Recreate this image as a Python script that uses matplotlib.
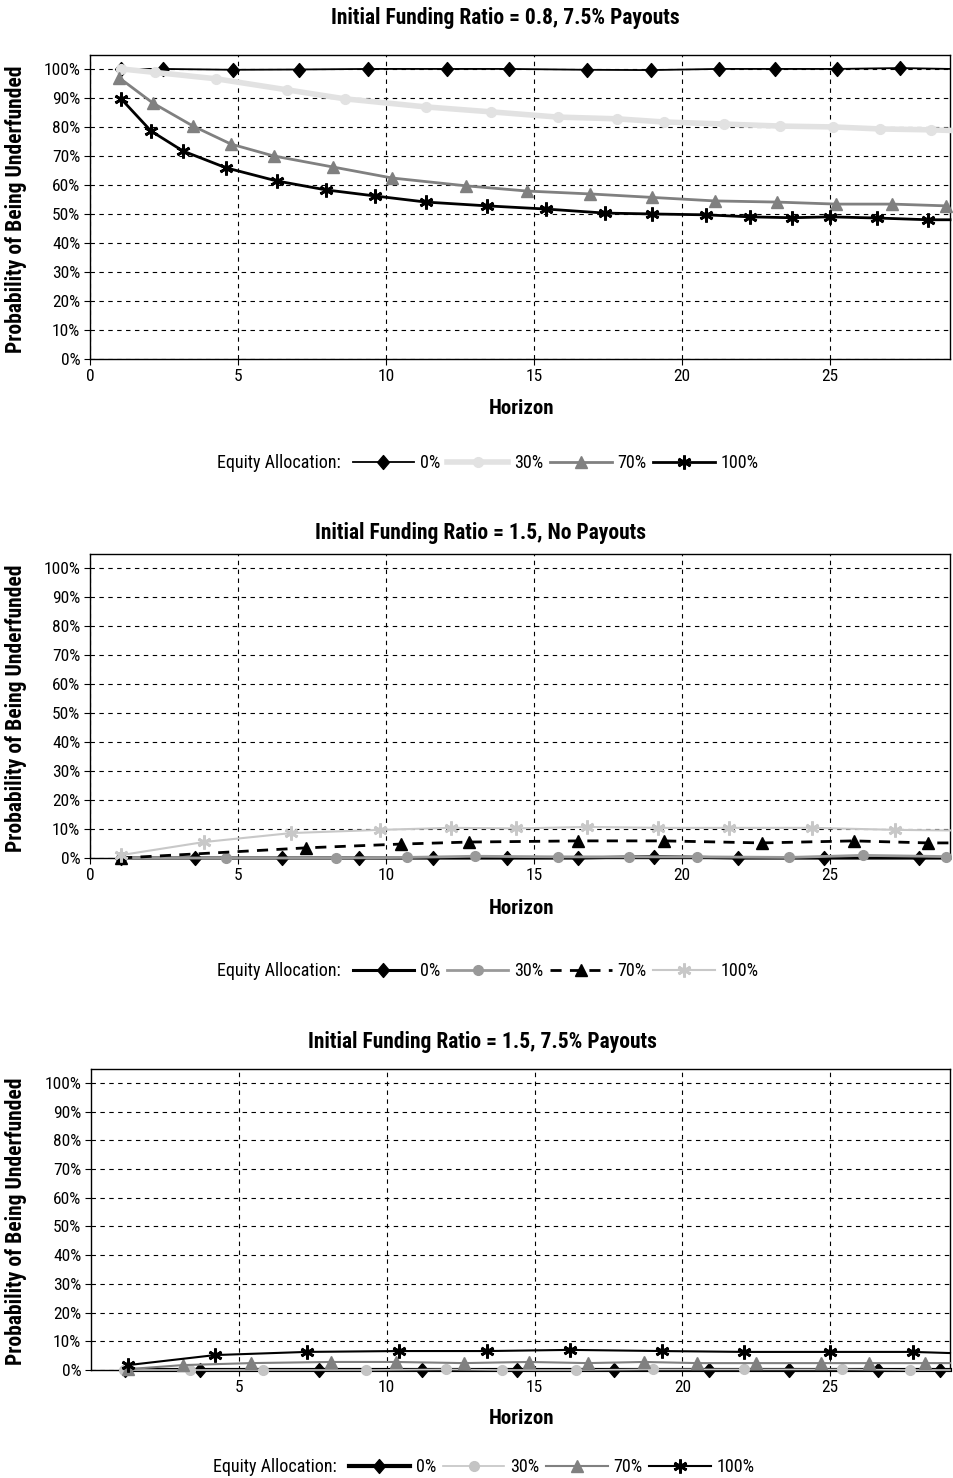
import matplotlib
matplotlib.use("Agg")
import matplotlib.pyplot as plt
from matplotlib import font_manager
from matplotlib.lines import Line2D
from matplotlib.path import Path

# pick a narrow sans if there is one
fonts = font_manager.fontManager.ttflist
names = set(f.name for f in fonts)
family = 'Liberation Sans'
stretch = 'normal'
for cand in ['Liberation Sans Narrow', 'Roboto Condensed', 'Open Sans Condensed']:
    if cand in names:
        family = cand
        break
else:
    if any(f.name == 'DejaVu Sans' and f.stretch == 'condensed' for f in fonts):
        family = 'DejaVu Sans'
        stretch = 'condensed'
plt.rcParams['font.family'] = [family, 'DejaVu Sans']
plt.rcParams['font.stretch'] = stretch

titles = ["Initial Funding Ratio = 0.8, 7.5% Payouts",
          "Initial Funding Ratio = 1.5, No Payouts",
          "Initial Funding Ratio = 1.5, 7.5% Payouts"]
labels = ["0%", "30%", "70%", "100%"]
yticks = list(range(0, 101, 10))

# panel 1: funding ratio 0.8, 7.5% payouts
p1_x0 = [1.05, 2.47, 4.83, 7.06, 9.4, 12.06, 14.16, 16.79, 18.95, 21.25, 23.14, 25.24, 27.36, 29.05]
p1_y0 = [100, 100, 99.7, 99.8, 100, 100, 100, 99.7, 99.6, 100, 100, 100, 100.3, 100]
p1_x30 = [1.05, 2.2, 4.26, 6.65, 8.6, 11.35, 13.55, 15.8, 17.8, 19.4, 21.4, 23.3, 25.1, 26.7, 28.4, 29.05]
p1_y30 = [100, 98.8, 96.6, 92.8, 89.7, 86.9, 85.2, 83.4, 82.8, 81.7, 81.0, 80.3, 80.0, 79.3, 79.0, 78.8]
p1_x70 = [0.99, 2.13, 3.48, 4.76, 6.2, 8.2, 10.2, 12.7, 14.76, 16.9, 19.0, 21.1, 23.2, 25.2, 27.1, 28.9]
p1_y70 = [96.9, 88.2, 80.3, 74.1, 70.0, 66.2, 62.4, 59.7, 57.9, 56.9, 55.7, 54.5, 54.1, 53.4, 53.4, 52.8]
p1_x100 = [1.05, 2.06, 3.14, 4.6, 6.3, 7.97, 9.63, 11.35, 13.4, 15.4, 17.4, 19.0, 20.8, 22.3, 23.7, 25.0, 26.6, 28.3, 29.05]
p1_y100 = [89.7, 78.6, 71.7, 65.9, 61.4, 58.3, 56.2, 54.1, 52.8, 51.7, 50.3, 50.0, 49.7, 49.0, 48.7, 49.0, 48.6, 48.0, 48.0]

# panel 2: funding ratio 1.5, no payouts
p2_x0 = [1.05, 3.55, 6.5, 9.1, 11.6, 14.1, 16.5, 19.05, 21.9, 24.8, 28.0, 29.05]
p2_y0 = [0, 0, 0, 0, 0, 0, 0, 0.5, 0, 0, 0, 0]
p2_x30 = [1.05, 4.6, 8.3, 10.7, 13.0, 15.8, 18.2, 20.5, 23.6, 26.1, 28.9]
p2_y30 = [0, 0, 0, 0.2, 0.6, 0.4, 0.4, 0.4, 0.2, 0.9, 0.5]
p2_x70 = [1.05, 7.3, 10.5, 12.8, 16.5, 19.4, 22.7, 25.8, 28.3, 29.05]
p2_y70 = [0, 3.5, 4.8, 5.5, 5.9, 5.9, 5.2, 5.9, 5.2, 5.2]
p2_x100 = [1.05, 3.85, 6.8, 9.8, 12.2, 14.4, 16.8, 19.2, 21.6, 24.4, 27.2, 29.05]
p2_y100 = [1.0, 5.5, 8.6, 9.7, 10.4, 10.2, 10.7, 10.4, 10.4, 10.4, 9.7, 9.5]

# panel 3: funding ratio 1.5, 7.5% payouts
p3_x0 = [1.15, 3.7, 7.7, 11.2, 14.4, 17.7, 20.9, 23.6, 26.6, 28.7, 29.05]
p3_y0 = [0, 0, 0, 0, 0, 0, 0, 0, 0, 0, 0]
p3_x30 = [1.1, 3.35, 5.8, 9.3, 12.0, 13.9, 16.4, 19.0, 22.1, 25.4, 27.7, 29.05]
p3_y30 = [0, 0, 0, 0, 0.2, 0, 0, 0.2, 0.2, 0.2, 0, 0]
p3_x70 = [1.25, 3.1, 5.4, 8.1, 10.3, 12.6, 14.8, 16.8, 18.7, 20.5, 22.5, 24.7, 26.3, 28.2, 29.05]
p3_y70 = [0.3, 1.7, 2.4, 2.8, 2.8, 2.4, 2.8, 2.4, 2.8, 2.4, 2.4, 2.4, 2.4, 2.4, 2.4]
p3_x100 = [1.25, 4.2, 7.3, 10.4, 13.4, 16.2, 19.3, 22.1, 25.0, 27.8, 29.05]
p3_y100 = [1.7, 5.2, 6.3, 6.6, 6.6, 7.0, 6.6, 6.3, 6.3, 6.3, 5.9]

star = (6, 2, 0)
diamond = Path([(0, 1), (0.85, 0), (0, -1), (-0.85, 0), (0, 1)],
               [Path.MOVETO, Path.LINETO, Path.LINETO, Path.LINETO, Path.CLOSEPOLY])

# style per panel: (color, lw, linestyle, marker, ms, marker color)
styles = [
    [('black', 1.3, '-', diamond, 10, 'black'),
     ('#e2e2e2', 4.0, '-', 'o', 7, '#e2e2e2'),
     ('#808080', 2.0, '-', '^', 9, '#808080'),
     ('black', 2.0, '-', star, 10, 'black')],
    [('black', 2.2, '-', diamond, 10, 'black'),
     ('#999999', 2.0, '-', 'o', 7, '#999999'),
     ('black', 2.0, (0, (4, 3)), '^', 9, 'black'),
     ('#c8c8c8', 1.5, '-', star, 10, '#c8c8c8')],
    [('black', 3.0, '-', diamond, 10, 'black'),
     ('#c4c4c4', 1.2, '-', 'o', 7, '#c4c4c4'),
     ('#808080', 1.5, '-', '^', 9, '#808080'),
     ('black', 1.5, '-', star, 10, 'black')],
]

data = [
    [(p1_x0, p1_y0), (p1_x30, p1_y30), (p1_x70, p1_y70), (p1_x100, p1_y100)],
    [(p2_x0, p2_y0), (p2_x30, p2_y30), (p2_x70, p2_y70), (p2_x100, p2_y100)],
    [(p3_x0, p3_y0), (p3_x30, p3_y30), (p3_x70, p3_y70), (p3_x100, p3_y100)],
]

W, H = 954, 1478
fig = plt.figure(figsize=(W / 100, H / 100), dpi=100)

# axes boxes in pixels: left, top, right, bottom
boxes = [(90, 55, 950, 359), (90, 554, 950, 858), (91, 1069, 950, 1370)]
title_pos = [(505, 18), (481, 533), (482, 1042)]
xlabel_y = [408, 908, 1418]
legend_y = [463, 971, 1467]
legend_x = [217, 217, 213]
xticks_list = [[0, 5, 10, 15, 20, 25], [0, 5, 10, 15, 20, 25], [5, 10, 15, 20, 25]]
XMAX = 29.05

for i in range(3):
    l, t, r, b = boxes[i]
    ax = fig.add_axes([l / W, 1 - b / H, (r - l) / W, (b - t) / H])
    handles = []
    for j in range(4):
        xs, ys = data[i][j]
        c, lw, ls, mk, ms, mc = styles[i][j]
        # the point at the right edge only carries the line, no marker
        mev = [k for k in range(len(xs)) if xs[k] < XMAX]
        mew = 2 if mk == star else 1
        ax.plot(xs, ys, color=c, lw=lw, ls=ls, marker=mk, ms=ms,
                mfc=mc, mec=mc, mew=mew, markevery=mev, zorder=3 + j, clip_on=False)
        handles.append(Line2D([], [], color=c, lw=lw, ls=ls, marker=mk, ms=ms,
                              mfc=mc, mec=mc, mew=mew))
    ax.set_xlim(0, XMAX)
    ax.set_ylim(0, 104.8)
    ax.set_yticks(yticks)
    ax.set_yticklabels([f"{v}%" for v in yticks])
    ax.set_xticks(xticks_list[i])
    ax.grid(True, color='black', ls=(0, (4, 4)), lw=0.8)
    ax.set_axisbelow(True)
    ax.tick_params(labelsize=12.5, length=4, width=0.8, direction='out', pad=3)
    for s in ax.spines.values():
        s.set_linewidth(1.0)

    fig.text(title_pos[i][0] / W, 1 - title_pos[i][1] / H, titles[i],
             ha='center', va='center', fontsize=15.5, fontweight='bold')
    fig.text(522 / W, 1 - xlabel_y[i] / H, "Horizon", ha='center', va='center',
             fontsize=15, fontweight='bold')
    fig.text(16 / W, 1 - ((t + b) / 2 + 2) / H, "Probability of Being Underfunded",
             ha='center', va='center', rotation=90, fontsize=15.5, fontweight='bold')

    lab = fig.text(legend_x[i] / W, 1 - legend_y[i] / H, "Equity Allocation:",
                   ha='left', va='center', fontsize=13)
    fig.canvas.draw()
    ext = lab.get_window_extent()
    fig.legend(handles, labels, loc='center left',
               bbox_to_anchor=((ext.x1 + 12) / W, 1 - legend_y[i] / H),
               ncol=4, frameon=False, fontsize=13, handlelength=3.4,
               handletextpad=0.3, columnspacing=0.4, borderaxespad=0, borderpad=0)

fig.savefig("out.png", dpi=100)
